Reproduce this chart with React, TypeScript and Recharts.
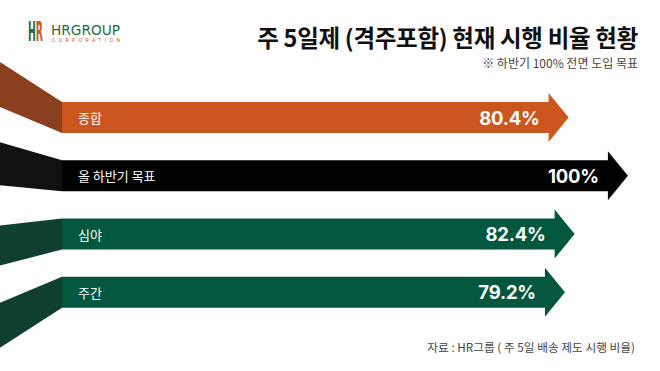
import React from "react";
import { Bar, BarChart, XAxis, YAxis } from "recharts";

const categories = ["종합", "올 하반기 목표", "심야", "주간"];
const rates = [80.4, 100, 82.4, 79.2];
const rateLabels = ["80.4%", "100%", "82.4%", "79.2%"];

// bar colour, ribbon colour, ribbon offsets at the left edge (top, bottom)
const rowStyles = [
  { fill: "#CD561F", ribbon: "#8A3F1F", rt: -40, rb: -26 },
  { fill: "#000000", ribbon: "#111111", rt: -18, rb: -6 },
  { fill: "#03573F", ribbon: "#0F3F31", rt: 7, rb: 16 },
  { fill: "#03573F", ribbon: "#0F3F31", rt: 26, rb: 40 },
];

const HEAD_LEN = 20;
const HEAD_OVER = 9;
const KR = '"Noto Sans CJK KR", "Noto Sans", sans-serif';

const data = categories.map((name, i) => ({
  name,
  rate: rates[i],
  label: rateLabels[i],
}));

function ArrowBar(props: any) {
  const { x, y, width, height, index, background } = props;
  const st = rowStyles[index] ?? rowStyles[0];
  const left = background?.x ?? x;
  const tip = x + width;
  const base = tip - HEAD_LEN;
  const top = y;
  const bottom = y + height;
  const mid = y + height / 2;
  const ribbon = `0,${top + st.rt} ${left},${top} ${left},${bottom} 0,${bottom + st.rb}`;
  const arrow = [
    [left, top],
    [base, top],
    [base, top - HEAD_OVER],
    [tip, mid],
    [base, bottom + HEAD_OVER],
    [base, bottom],
    [left, bottom],
  ]
    .map((p) => p.join(","))
    .join(" ");
  return (
    <g>
      <polygon points={ribbon} fill={st.ribbon} />
      <polygon points={arrow} fill={st.fill} />
      <text
        x={left + 16}
        y={mid}
        fill="#fff"
        fontSize={13}
        fontFamily={KR}
        dominantBaseline="central"
      >
        {props.payload?.name}
      </text>
      <text
        x={base - 9}
        y={mid}
        fill="#fff"
        fontSize={18.5}
        fontWeight={700}
        fontFamily='Inter, "Noto Sans", sans-serif'
        letterSpacing={-0.2}
        textAnchor="end"
        dominantBaseline="central"
      >
        {props.payload?.label}
      </text>
    </g>
  );
}

function Logo() {
  const cond = '"DejaVu Sans Condensed", "DejaVu Sans", sans-serif';
  return (
    <svg
      width={130}
      height={50}
      style={{ position: "absolute", left: 0, top: 0 }}
    >
      <text x={28} y={41} fontFamily={cond} fontWeight={700} fontSize={26}
        textLength={15} lengthAdjust="spacingAndGlyphs">
        <tspan fill="#1F6B45">H</tspan>
        <tspan fill="#D0581F">R</tspan>
      </text>
      <text x={51} y={34.5} fontFamily={cond} fontSize={14.5}
        fill="#1F6B45" textLength={69} lengthAdjust="spacingAndGlyphs">
        HRGROUP
      </text>
      <text x={52} y={42} fontFamily="Roboto, sans-serif" fontSize={5}
        fill="#D0581F" textLength={68} lengthAdjust="spacing">
        CORPORATION
      </text>
    </svg>
  );
}

export default function App() {
  return (
    <div
      style={{
        position: "absolute",
        left: 0,
        top: 0,
        width: 660,
        height: 371,
        background: "#fff",
        overflow: "hidden",
      }}
    >
      <BarChart
        width={660}
        height={371}
        data={data}
        layout="vertical"
        margin={{ top: 88, right: 20, bottom: 50, left: 62 }}
        barSize={31}
      >
        <XAxis type="number" domain={[-87, 104]} hide />
        <YAxis type="category" dataKey="name" hide />
        <Bar dataKey="rate" shape={ArrowBar} isAnimationActive={false} />
      </BarChart>
      <Logo />
      <div
        style={{
          position: "absolute",
          right: 22,
          top: 24,
          fontFamily: KR,
          fontWeight: 700,
          fontSize: 23.5,
          lineHeight: "26px",
          color: "#111",
          letterSpacing: -0.3,
          whiteSpace: "nowrap",
        }}
      >
        주 5일제 (격주포함) 현재 시행 비율 현황
      </div>
      <div
        style={{
          position: "absolute",
          right: 22,
          top: 55,
          fontFamily: KR,
          fontSize: 12,
          lineHeight: "15px",
          color: "#444",
          whiteSpace: "nowrap",
        }}
      >
        ※ 하반기 100% 전면 도입 목표
      </div>
      <div
        style={{
          position: "absolute",
          right: 25,
          top: 339,
          fontFamily: KR,
          fontSize: 11.7,
          lineHeight: "16px",
          color: "#444",
          whiteSpace: "nowrap",
        }}
      >
        자료 : HR그룹 ( 주 5일 배송 제도 시행 비율)
      </div>
    </div>
  );
}
